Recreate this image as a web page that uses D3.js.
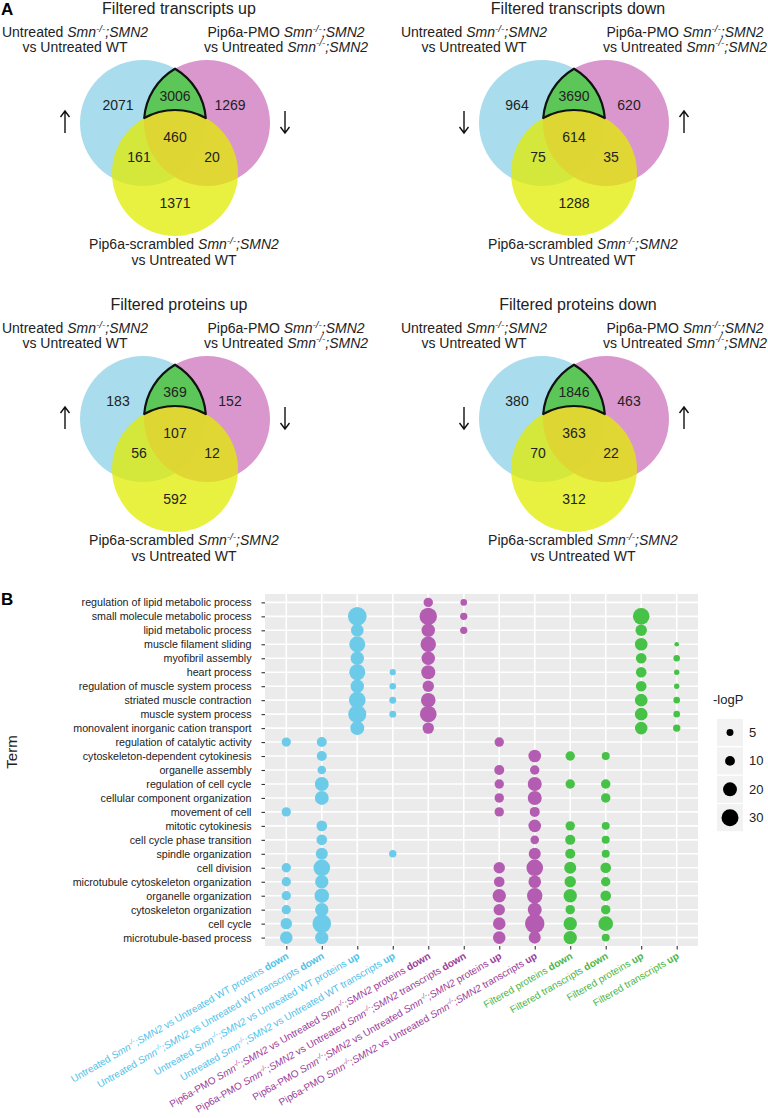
<!DOCTYPE html>
<html>
<head>
<meta charset="utf-8">
<script src="https://cdn.jsdelivr.net/npm/d3@7"></script>
<style>
    body { margin: 0; background: #fff; }
    text { font-family: "Liberation Sans", Arial, sans-serif; }
</style>
</head>
<body>
<script>
//venn counts, order: untreated only, PMO only, scrambled only, untreated&PMO, untreated&scrambled, PMO&scrambled, all three
var transcriptsUp = [2071, 1269, 1371, 3006, 161, 20, 460];
var transcriptsDown = [964, 620, 1288, 3690, 75, 35, 614];
var proteinsUp = [183, 152, 592, 369, 56, 12, 107];
var proteinsDown = [380, 463, 312, 1846, 70, 22, 363];
var vennTitles = ["Filtered transcripts up", "Filtered transcripts down", "Filtered proteins up", "Filtered proteins down"];
var vennArrows = [["up", "down"], ["down", "up"], ["up", "down"], ["down", "up"]];

//dot plot terms, top to bottom
var terms = ["regulation of lipid metabolic process", "small molecule metabolic process", "lipid metabolic process",
    "muscle filament sliding", "myofibril assembly", "heart process", "regulation of muscle system process",
    "striated muscle contraction", "muscle system process", "monovalent inorganic cation transport",
    "regulation of catalytic activity", "cytoskeleton-dependent cytokinesis", "organelle assembly",
    "regulation of cell cycle", "cellular component organization", "movement of cell", "mitotic cytokinesis",
    "cell cycle phase transition", "spindle organization", "cell division", "microtubule cytoskeleton organization",
    "organelle organization", "cytoskeleton organization", "cell cycle", "microtubule-based process"];

//x categories
var colGroup = ["untreated", "untreated", "untreated", "untreated", "pmo", "pmo", "pmo", "pmo",
    "filtered", "filtered", "filtered", "filtered"];
var colOmics = ["proteins", "transcripts", "proteins", "transcripts", "proteins", "transcripts", "proteins", "transcripts",
    "proteins", "transcripts", "proteins", "transcripts"];
var colDir = ["down", "down", "up", "up", "down", "down", "up", "up", "down", "down", "up", "up"];

//-logP per term (null = not enriched)
var _ = null;
var untrProtDown = [_,_,_,_,_,_,_,_,_,_, 9,_,_,_,_, 9,_,_,_, 9, 9, 9, 9, 13.5, 16.5];
var untrTxDown = [_,_,_,_,_,_,_,_,_,_, 10.4, 10.4, 7.7, 20, 20,_, 11.7, 11.7, 15, 28.6, 18.6, 22, 18.6, 36, 18.6];
var untrProtUp = [_, 36, 16.5, 26.6, 18.6, 26.6, 18.6, 28.6, 33.6, 20.3,_,_,_,_,_,_,_,_,_,_,_,_,_,_,_];
var untrTxUp = [_,_,_,_,_, 4, 4.5, 5, 5,_,_,_,_,_,_,_,_,_, 5.7,_,_,_,_,_,_];
var pmoProtDown = [9.2, 31.4, 18.6, 24.6, 18.6, 20.3, 13.5, 22, 28.6, 13.5,_,_,_,_,_,_,_,_,_,_,_,_,_,_,_];
var pmoTxDown = [4.5, 5.5, 5.5,_,_,_,_,_,_,_,_,_,_,_,_,_,_,_,_,_,_,_,_,_,_];
var pmoProtUp = [_,_,_,_,_,_,_,_,_,_, 9.2,_, 10.4, 9.2, 9.2, 9.2,_,_,_, 13.5, 11.7, 18.6, 13.5, 16.5, 16.5];
var pmoTxUp = [_,_,_,_,_,_,_,_,_,_,_, 16.5, 9.2, 20.3, 20.3, 10.4, 16.5, 7.7, 15, 28.6, 16.5, 24.6, 20.3, 39, 15];
var filtProtDown = [_,_,_,_,_,_,_,_,_,_,_, 9.2,_, 9.2,_,_, 9.2, 10.4, 10.4, 15, 13.5, 18.6, 9.2, 18.6, 18.6];
var filtTxDown = [_,_,_,_,_,_,_,_,_,_,_, 6.6,_, 9.2, 9.2,_, 6.6, 6.6, 6.6, 11.7, 9.2, 11.7, 9.2, 22, 6.6];
var filtProtUp = [_, 28.6, 13.5, 16.5, 11.7, 11.7, 11.7, 16.5, 16.5, 16.5,_,_,_,_,_,_,_,_,_,_,_,_,_,_,_];
var filtTxUp = [_,_,_, 2.2, 4.5, 3, 3, 4.5, 4.5, 5.7,_,_,_,_,_,_,_,_,_,_,_,_,_,_,_];

var legendSizes = [5, 10, 20, 30];

var svg = d3.select("body")
    .append("svg")
    .attr("width", 768)
    .attr("height", 1118);

//genotype text Smn-/-;SMN2 in italic with superscript
function geno() {
    return [{t: "Smn", i: 1}, {t: "-/-", i: 1, sup: 1}, {t: ";SMN2", i: 1, back: 1}];
}

function rich(textSel, parts, fs) {
    parts.forEach(function(p) {
        var t = textSel.append("tspan").text(p.t);
        if (p.i) t.style("font-style", "italic");
        if (p.b) t.style("font-weight", "bold");
        if (p.sup) t.attr("font-size", fs * 0.7).attr("dy", -fs * 0.38);
        if (p.back) t.attr("dy", fs * 0.38);
    });
}

function meet(c1, c2, r) {
    var dx = c2.x - c1.x, dy = c2.y - c1.y, d = Math.sqrt(dx * dx + dy * dy);
    var h = Math.sqrt(r * r - d * d / 4), mx = c1.x + dx / 2, my = c1.y + dy / 2;
    return [{x: mx - h * dy / d, y: my + h * dx / d}, {x: mx + h * dy / d, y: my - h * dx / d}];
}

function arrow(g, x, y0, dir) {
    var tip = dir == "up" ? y0 : y0 + 22;
    var s = dir == "up" ? 1 : -1;
    g.append("path")
        .attr("d", "M" + x + "," + y0 + "V" + (y0 + 22) + "M" + (x - 4.5) + "," + (tip + 6 * s) + "L" + x + "," + tip + "L" + (x + 4.5) + "," + (tip + 6 * s))
        .style("fill", "none")
        .style("stroke", "#111")
        .style("stroke-width", 1.4);
}

//draw one venn diagram
function venn(counts, title, arrows, cx, oy) {
    var g = svg.append("g").attr("class", "venn");
    var R = 63;
    var cA = {x: cx - 32, y: oy + 123}, cB = {x: cx + 32, y: oy + 123}, cC = {x: cx, y: oy + 173};

    g.append("circle").attr("cx", cA.x).attr("cy", cA.y).attr("r", R).style("fill", "#a9dcec");
    g.append("circle").attr("cx", cB.x).attr("cy", cB.y).attr("r", R).style("fill", "#d68cc8").style("opacity", 0.9);
    g.append("circle").attr("cx", cC.x).attr("cy", cC.y).attr("r", R).style("fill", "#e2ec00").style("opacity", 0.75);

    //highlighted region: untreated & PMO but not scrambled
    var T = meet(cA, cB, R).sort(function(a, b) { return a.y - b.y; })[0];
    var A = meet(cB, cC, R).sort(function(a, b) { return a.x - b.x; })[0];
    var B = meet(cA, cC, R).sort(function(a, b) { return b.x - a.x; })[0];
    g.append("path")
        .attr("d", "M" + T.x + "," + T.y +
            "A" + R + "," + R + " 0 0 0 " + A.x + "," + A.y +
            "A" + R + "," + R + " 0 0 1 " + B.x + "," + B.y +
            "A" + R + "," + R + " 0 0 0 " + T.x + "," + T.y + "Z")
        .style("fill", "#5cc758")
        .style("stroke", "#111")
        .style("stroke-width", 2.2)
        .style("stroke-linejoin", "round");

    var spots = [[-57, 110], [55, 110], [0, 208], [0, 101], [-36, 162], [37, 162], [0, 142]];
    g.selectAll(".num")
        .data(counts)
        .enter()
        .append("text")
        .attr("class", "num")
        .attr("text-anchor", "middle")
        .attr("x", function(d, i) { return cx + spots[i][0]; })
        .attr("y", function(d, i) { return oy + spots[i][1]; })
        .style("font-size", "14px")
        .style("fill", "#222")
        .text(function(d) { return d; });

    g.append("text").attr("x", cx + 4).attr("y", oy + 14).attr("text-anchor", "middle")
        .style("font-size", "16px").style("fill", "#222").text(title);

    var t;
    t = g.append("text").attr("x", cx - 100).attr("y", oy + 37).attr("text-anchor", "middle").style("font-size", "14px").style("fill", "#222");
    rich(t, [{t: "Untreated "}].concat(geno()), 14);
    g.append("text").attr("x", cx - 100).attr("y", oy + 51.5).attr("text-anchor", "middle").style("font-size", "14px").style("fill", "#222").text("vs Untreated WT");

    t = g.append("text").attr("x", cx + 111).attr("y", oy + 37).attr("text-anchor", "middle").style("font-size", "14px").style("fill", "#222");
    rich(t, [{t: "Pip6a-PMO "}].concat(geno()), 14);
    t = g.append("text").attr("x", cx + 111).attr("y", oy + 51.5).attr("text-anchor", "middle").style("font-size", "14px").style("fill", "#222");
    rich(t, [{t: "vs Untreated "}].concat(geno()), 14);

    t = g.append("text").attr("x", cx + 9).attr("y", oy + 249).attr("text-anchor", "middle").style("font-size", "14px").style("fill", "#222");
    rich(t, [{t: "Pip6a-scrambled "}].concat(geno()), 14);
    g.append("text").attr("x", cx + 9).attr("y", oy + 264.5).attr("text-anchor", "middle").style("font-size", "14px").style("fill", "#222").text("vs Untreated WT");

    arrow(g, cx - 110, oy + 111, arrows[0]);
    arrow(g, cx + 110, oy + 111, arrows[1]);
}

venn(transcriptsUp, vennTitles[0], vennArrows[0], 175, 0);
venn(transcriptsDown, vennTitles[1], vennArrows[1], 574, 0);
venn(proteinsUp, vennTitles[2], vennArrows[2], 175, 296);
venn(proteinsDown, vennTitles[3], vennArrows[3], 574, 296);

//panel letters
svg.append("text").attr("x", 1).attr("y", 15).style("font-size", "17px").style("font-weight", "bold").text("A");
svg.append("text").attr("x", 1).attr("y", 605).style("font-size", "17px").style("font-weight", "bold").text("B");

//dot plot
var columns = [untrProtDown, untrTxDown, untrProtUp, untrTxUp, pmoProtDown, pmoTxDown, pmoProtUp, pmoTxUp,
    filtProtDown, filtTxDown, filtProtUp, filtTxUp];
var dotColor = {untreated: "#6dcbea", pmo: "#b45bb2", filtered: "#46c246"};
var labColor = {untreated: "#4fc1e9", pmo: "#9b3c99", filtered: "#4cb64a"};

var x = d3.scalePoint().domain(d3.range(12)).range([265, 698]).padding(0.6);
var y = d3.scalePoint().domain(terms).range([594, 946]).padding(0.6);
var size = d3.scaleSqrt().domain([0, 30]).range([0, 8.5]);

svg.append("rect").attr("x", 265).attr("y", 594).attr("width", 433).attr("height", 352).style("fill", "#ebebeb");

svg.selectAll(".hgrid")
    .data(terms)
    .enter()
    .append("line")
    .attr("class", "hgrid")
    .attr("x1", 265).attr("x2", 698)
    .attr("y1", function(d) { return y(d); })
    .attr("y2", function(d) { return y(d); })
    .style("stroke", "#fff").style("stroke-width", 1.6);

svg.selectAll(".vgrid")
    .data(d3.range(12))
    .enter()
    .append("line")
    .attr("class", "vgrid")
    .attr("y1", 594).attr("y2", 946)
    .attr("x1", function(d) { return x(d); })
    .attr("x2", function(d) { return x(d); })
    .style("stroke", "#fff").style("stroke-width", 1.6);

var dots = [];
columns.forEach(function(col, c) {
    col.forEach(function(v, r) {
        if (v != null) dots.push({col: c, term: terms[r], value: v});
    });
});

svg.selectAll(".dots")
    .data(dots)
    .enter()
    .append("circle")
    .attr("class", "dots")
    .attr("cx", function(d) { return x(d.col); })
    .attr("cy", function(d) { return y(d.term); })
    .attr("r", function(d) { return size(d.value); })
    .style("fill", function(d) { return dotColor[colGroup[d.col]]; });

var yAxis = svg.append("g")
    .attr("class", "axis")
    .attr("transform", "translate(265,0)")
    .call(d3.axisLeft(y).tickSize(3.5).tickPadding(10));
yAxis.select(".domain").remove();
yAxis.selectAll("line").style("stroke", "#333").style("stroke-width", 1.1);
yAxis.selectAll("text").style("font-size", "10.7px").style("fill", "#222").style("font-family", "'Liberation Sans', Arial, sans-serif");

var xAxis = svg.append("g")
    .attr("class", "axis")
    .attr("transform", "translate(0,946)")
    .call(d3.axisBottom(x).tickSize(3.5).tickFormat(""));
xAxis.select(".domain").remove();
xAxis.selectAll("line").style("stroke", "#333").style("stroke-width", 1.1);

//x labels, rotated
d3.range(12).forEach(function(c) {
    var parts;
    if (colGroup[c] == "untreated") {
        parts = [{t: "Untreated "}].concat(geno(), [{t: " vs Untreated WT " + colOmics[c] + " "}]);
    } else if (colGroup[c] == "pmo") {
        parts = [{t: "Pip6a-PMO "}].concat(geno(), [{t: " vs Untreated "}], geno(), [{t: " " + colOmics[c] + " "}]);
    } else {
        parts = [{t: "Filtered " + colOmics[c] + " "}];
    }
    parts.push({t: colDir[c], b: 1});
    var t = svg.append("text")
        .attr("class", "xlab")
        .attr("text-anchor", "end")
        .attr("transform", "translate(" + (x(c) + 3) + ",958) rotate(-30)")
        .style("font-size", "10px")
        .style("fill", labColor[colGroup[c]]);
    rich(t, parts, 10);
});

svg.append("text")
    .attr("transform", "translate(17,752) rotate(-90)")
    .attr("text-anchor", "middle")
    .style("font-size", "15px")
    .style("fill", "#222")
    .text("Term");

//size legend
svg.append("text").attr("x", 713).attr("y", 704).style("font-size", "13px").style("fill", "#222").text("-logP");
var keys = svg.selectAll(".key")
    .data(legendSizes)
    .enter()
    .append("g")
    .attr("class", "key")
    .attr("transform", function(d, i) { return "translate(717," + (719 + i * 28.4) + ")"; });
keys.append("rect").attr("width", 26).attr("height", 27).style("fill", "#f2f2f2");
keys.append("circle").attr("cx", 13).attr("cy", 13.5).attr("r", function(d) { return size(d); }).style("fill", "#000");
keys.append("text").attr("x", 32).attr("y", 18).style("font-size", "13px").style("fill", "#222").text(function(d) { return d; });
</script>
</body>
</html>
